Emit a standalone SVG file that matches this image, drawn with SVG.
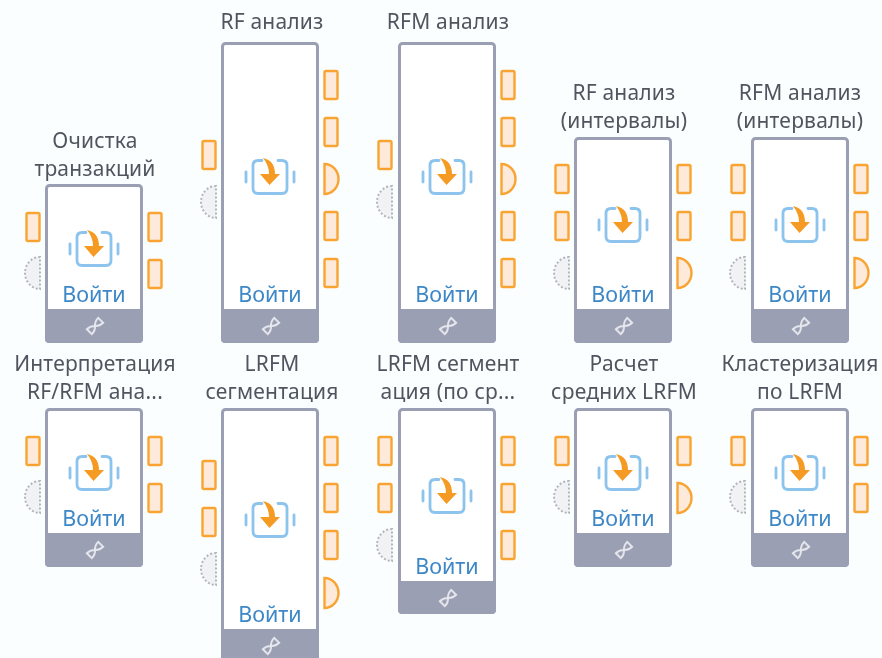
<svg xmlns="http://www.w3.org/2000/svg" width="882" height="658" viewBox="0 0 882 658">
<style>
.bg{fill:#fbfeff}
.box{fill:#fff;stroke:#9a9fb3;stroke-width:3}
.foot{fill:#9a9fb3}
.lbl{font-family:"Noto Sans","Open Sans",sans-serif;font-size:21px;letter-spacing:.2px;fill:#50555f;text-anchor:middle}
.go{font-family:"Noto Sans","Open Sans",sans-serif;font-size:21.500px;fill:#3d87c7;text-anchor:middle}
.p{fill:#fdeadb;stroke:#f9a431;stroke-width:2.4}
.g{fill:#f1f2f4;stroke:#b4b6bd;stroke-width:2;stroke-dasharray:2 2}
.ib{fill:none;stroke:#8cc4ee;stroke-width:2.800;stroke-linecap:round}
.ia{fill:#f59a23}
.d{fill:none;stroke:#e4e6ec;stroke-width:2}
</style>
<defs>
<filter id="soft" x="0" y="0" width="100%" height="100%"><feGaussianBlur stdDeviation="0.4"/></filter>
<g id="port"><rect class="p" x="-6.500" y="-14" width="13" height="28" rx="1.500"/></g>
<g id="out"><path class="p" d="M-6.500-15A14 15 0 0 1-6.500 15Z"/></g>
<g id="inp"><path class="g" d="M7-16A15 16 0 0 0 7 16Z"/></g>
<g id="icon">
<path class="ib" d="M-8-16.500H-12Q-17-16.500-17-11.500V11.500Q-17 16.500-12 16.500H12Q17 16.500 17 11.500V-11.500Q17-16.500 12-16.500H8"/>
<path class="ib" d="M-24-5V5M24-5V5"/>
<path class="ia" d="M-7-19C2-17 5-11 5-3H10L-.500 8-10-3H-1C-1-9-3-14-7-19Z"/>
</g>
<g id="dna"><path class="d" transform="rotate(-45)" d="M-8-3.500Q-3-3.500 0 0T8 3.500V-3.500Q3-3.500 0 0T-8 3.500Z"/></g>
</defs>
<rect class="bg" width="882" height="658"/>
<g id="connectors"/>
<g filter="url(#soft)">
<g id="n1">
<text class="lbl" x="95" y="148">Очистка</text><text class="lbl" x="95" y="176">транзакций</text>
<rect class="box" x="46.500" y="185.500" width="95" height="156" rx="3"/><path class="foot" d="M45 309H143V339Q143 343 139 343H49Q45 343 45 339Z"/>
<use href="#icon" x="94" y="249"/><text class="go" x="94" y="302">Войти</text><use href="#dna" x="95" y="326"/>
<use href="#port" x="33" y="227"/><use href="#inp" x="33" y="273"/><use href="#port" x="155" y="227"/><use href="#port" x="155" y="274"/>
</g>
<g id="n2">
<text class="lbl" x="272" y="29">RF анализ</text>
<rect class="box" x="222.500" y="43.500" width="95" height="298" rx="3"/><path class="foot" d="M221 309H319V339Q319 343 315 343H225Q221 343 221 339Z"/>
<use href="#icon" x="270" y="177"/><text class="go" x="270" y="302">Войти</text><use href="#dna" x="271" y="326"/>
<use href="#port" x="209" y="155"/><use href="#inp" x="209" y="202"/>
<use href="#port" x="331" y="85"/><use href="#port" x="331" y="132"/><use href="#out" x="331" y="179"/><use href="#port" x="331" y="226"/><use href="#port" x="331" y="273"/>
</g>
<g id="n3">
<text class="lbl" x="448" y="29">RFM анализ</text>
<rect class="box" x="399.500" y="43.500" width="95" height="298" rx="3"/><path class="foot" d="M398 309H496V339Q496 343 492 343H402Q398 343 398 339Z"/>
<use href="#icon" x="447" y="177"/><text class="go" x="447" y="302">Войти</text><use href="#dna" x="448" y="326"/>
<use href="#port" x="385" y="155"/><use href="#inp" x="385" y="202"/>
<use href="#port" x="508" y="85"/><use href="#port" x="508" y="132"/><use href="#out" x="508" y="179"/><use href="#port" x="508" y="226"/><use href="#port" x="508" y="273"/>
</g>
<g id="n4">
<text class="lbl" x="624" y="100">RF анализ</text><text class="lbl" x="624" y="128">(интервалы)</text>
<rect class="box" x="575.500" y="138.500" width="95" height="203" rx="3"/><path class="foot" d="M574 309H672V339Q672 343 668 343H578Q574 343 574 339Z"/>
<use href="#icon" x="623" y="225"/><text class="go" x="623" y="302">Войти</text><use href="#dna" x="624" y="326"/>
<use href="#port" x="562" y="179"/><use href="#port" x="562" y="226"/><use href="#inp" x="562" y="273"/>
<use href="#port" x="684" y="179"/><use href="#port" x="684" y="226"/><use href="#out" x="684" y="273"/>
</g>
<g id="n5">
<text class="lbl" x="800" y="100">RFM анализ</text><text class="lbl" x="800" y="128">(интервалы)</text>
<rect class="box" x="752.500" y="138.500" width="95" height="203" rx="3"/><path class="foot" d="M751 309H849V339Q849 343 845 343H755Q751 343 751 339Z"/>
<use href="#icon" x="800" y="225"/><text class="go" x="800" y="302">Войти</text><use href="#dna" x="801" y="326"/>
<use href="#port" x="738" y="179"/><use href="#port" x="738" y="226"/><use href="#inp" x="738" y="273"/>
<use href="#port" x="861" y="179"/><use href="#port" x="861" y="226"/><use href="#out" x="861" y="273"/>
</g>
<g id="n6">
<text class="lbl" x="95" y="371">Интерпретация</text><text class="lbl" x="95" y="399">RF/RFM ана...</text>
<rect class="box" x="46.500" y="409.500" width="95" height="156" rx="3"/><path class="foot" d="M45 533H143V563Q143 567 139 567H49Q45 567 45 563Z"/>
<use href="#icon" x="94" y="473"/><text class="go" x="94" y="526">Войти</text><use href="#dna" x="95" y="550"/>
<use href="#port" x="33" y="451"/><use href="#inp" x="33" y="497"/><use href="#port" x="155" y="451"/><use href="#port" x="155" y="498"/>
</g>
<g id="n7">
<text class="lbl" x="272" y="371">LRFM</text><text class="lbl" x="272" y="399">сегментация</text>
<rect class="box" x="222.500" y="409.500" width="95" height="255" rx="3"/><path class="foot" d="M221 629H319V658H221Z"/>
<use href="#icon" x="270" y="520"/><text class="go" x="270" y="622">Войти</text><use href="#dna" x="271" y="646"/>
<use href="#port" x="209" y="475"/><use href="#port" x="209" y="522"/><use href="#inp" x="209" y="569"/>
<use href="#port" x="331" y="451"/><use href="#port" x="331" y="498"/><use href="#port" x="331" y="545"/><use href="#out" x="331" y="593"/>
</g>
<g id="n8">
<text class="lbl" x="448" y="371">LRFM сегмент</text><text class="lbl" x="448" y="399">ация (по ср...</text>
<rect class="box" x="399.500" y="409.500" width="95" height="203" rx="3"/><path class="foot" d="M398 581H496V610Q496 614 492 614H402Q398 614 398 610Z"/>
<use href="#icon" x="447" y="496"/><text class="go" x="447" y="574">Войти</text><use href="#dna" x="448" y="598"/>
<use href="#port" x="385" y="451"/><use href="#port" x="385" y="498"/><use href="#inp" x="385" y="545"/>
<use href="#port" x="508" y="451"/><use href="#port" x="508" y="498"/><use href="#port" x="508" y="545"/>
</g>
<g id="n9">
<text class="lbl" x="624" y="371">Расчет</text><text class="lbl" x="624" y="399">средних LRFM</text>
<rect class="box" x="575.500" y="409.500" width="95" height="156" rx="3"/><path class="foot" d="M574 533H672V563Q672 567 668 567H578Q574 567 574 563Z"/>
<use href="#icon" x="623" y="473"/><text class="go" x="623" y="526">Войти</text><use href="#dna" x="624" y="550"/>
<use href="#port" x="562" y="451"/><use href="#inp" x="562" y="497"/><use href="#port" x="684" y="451"/><use href="#out" x="684" y="498"/>
</g>
<g id="n10">
<text class="lbl" x="800" y="371">Кластеризация</text><text class="lbl" x="800" y="399">по LRFM</text>
<rect class="box" x="752.500" y="409.500" width="95" height="156" rx="3"/><path class="foot" d="M751 533H849V563Q849 567 845 567H755Q751 567 751 563Z"/>
<use href="#icon" x="800" y="473"/><text class="go" x="800" y="526">Войти</text><use href="#dna" x="801" y="550"/>
<use href="#port" x="738" y="451"/><use href="#inp" x="738" y="497"/><use href="#port" x="861" y="451"/><use href="#port" x="861" y="498"/>
</g>
</g>
</svg>
